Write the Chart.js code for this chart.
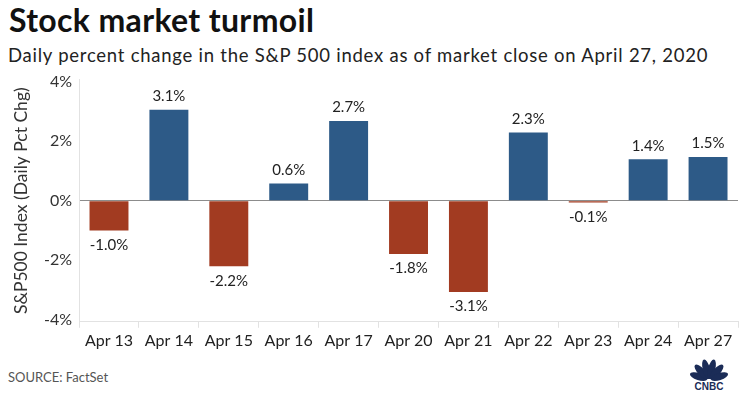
<!DOCTYPE html>
<html>
<head>
<meta charset="utf-8">
<script src="https://cdn.jsdelivr.net/npm/chart.js@4.4.1/dist/chart.umd.min.js"></script>
<style>
  html, body { margin: 0; padding: 0; background: #fff; }
  body { width: 743px; height: 394px; position: relative; overflow: hidden; font-family: Lato, "Open Sans", sans-serif; color: #111; }
  #title { position: absolute; left: 9px; top: 0px; font-size: 32px; font-weight: 700; letter-spacing: 0.35px; }
  #subtitle { position: absolute; left: 8px; top: 44px; font-size: 18.5px; letter-spacing: 0.75px; color: #222; }
  #chartBox { position: absolute; left: 0; top: 63px; width: 743px; height: 290px; }
  #source { position: absolute; left: 8px; top: 369px; font-size: 13px; color: #555; }
  #logo { position: absolute; left: 686px; top: 358px; }
</style>
</head>
<body>
<div id="title">Stock market turmoil</div>
<div id="subtitle">Daily percent change in the S&amp;P 500 index as of market close on April 27, 2020</div>
<div id="chartBox"><canvas id="chart"></canvas></div>
<div id="source">SOURCE: FactSet</div>
<svg id="logo" width="46" height="33" viewBox="0 0 46 33">
  <g fill="#1b2c57">
    <ellipse cx="23" cy="11" rx="3.6" ry="9" transform="rotate(-72 23 22)"/>
    <ellipse cx="23" cy="11" rx="3.6" ry="9.5" transform="rotate(-43 23 22)"/>
    <ellipse cx="23" cy="11" rx="3.6" ry="10" transform="rotate(-14 23 22)"/>
    <ellipse cx="23" cy="11" rx="3.6" ry="10" transform="rotate(14 23 22)"/>
    <ellipse cx="23" cy="11" rx="3.6" ry="9.5" transform="rotate(43 23 22)"/>
    <ellipse cx="23" cy="11" rx="3.6" ry="9" transform="rotate(72 23 22)"/>
  </g>
  <text x="23" y="32" text-anchor="middle" font-family="Liberation Sans, Arial, sans-serif" font-weight="700" font-size="10" fill="#1b2c57">CNBC</text>
</svg>
<script>
const days = ['Apr 13', 'Apr 14', 'Apr 15', 'Apr 16', 'Apr 17', 'Apr 20', 'Apr 21', 'Apr 22', 'Apr 23', 'Apr 24', 'Apr 27'];
const pctChange = [-1.0, 3.06, -2.2, 0.58, 2.68, -1.79, -3.07, 2.29, -0.06, 1.39, 1.47];
const yTicks = [-4, -2, 0, 2, 4];

const upColor = '#2d5a87';
const downColor = '#a23b21';

// labels above/below each bar
const barLabels = {
    id: 'barLabels',
    afterDatasetsDraw(chart) {
        const ctx = chart.ctx;
        const meta = chart.getDatasetMeta(0);
        ctx.save();
        ctx.font = '15px Lato, "Open Sans", sans-serif';
        ctx.fillStyle = '#222';
        ctx.textAlign = 'center';
        meta.data.forEach((bar, i) => {
            const v = pctChange[i];
            const txt = v.toFixed(1) + '%';
            if (v >= 0) {
                ctx.textBaseline = 'bottom';
                ctx.fillText(txt, bar.x, bar.y - 6);
            } else {
                ctx.textBaseline = 'top';
                ctx.fillText(txt, bar.x, bar.y + 7);
            }
        });
        ctx.restore();
    }
};

new Chart(document.getElementById('chart'), {
    type: 'bar',
    data: {
        labels: days,
        datasets: [{
            data: pctChange,
            backgroundColor: pctChange.map(v => v >= 0 ? upColor : downColor),
            categoryPercentage: 1,
            barPercentage: 0.65
        }]
    },
    options: {
        responsive: true,
        maintainAspectRatio: false,
        animation: false,
        layout: { padding: { top: 0, right: 5, left: 6, bottom: 0 } },
        plugins: {
            legend: { display: false },
            tooltip: { enabled: false }
        },
        scales: {
            x: {
                grid: { drawOnChartArea: false, color: '#e2e2e2', tickLength: 6 },
                border: { color: '#e2e2e2' },
                ticks: { color: '#222', font: { size: 16, family: 'Lato' }, padding: 3, maxRotation: 0, autoSkip: false }
            },
            y: {
                min: -4.07,
                max: 4.07,
                afterBuildTicks: axis => { axis.ticks = yTicks.map(v => ({ value: v })); },
                grid: {
                    drawTicks: false,
                    color: c => c.tick && c.tick.value === 0 ? '#8c8c8c' : 'rgba(0,0,0,0)',
                    lineWidth: 1
                },
                border: { color: '#e2e2e2' },
                ticks: { color: '#333', font: { size: 16, family: 'Lato' }, padding: 7, callback: v => v + '%' },
                title: { display: true, text: 'S&P500 Index (Daily Pct Chg)', color: '#333', font: { size: 17.5, family: 'Lato' }, padding: 5 }
            }
        }
    },
    plugins: [barLabels]
});
</script>
</body>
</html>
